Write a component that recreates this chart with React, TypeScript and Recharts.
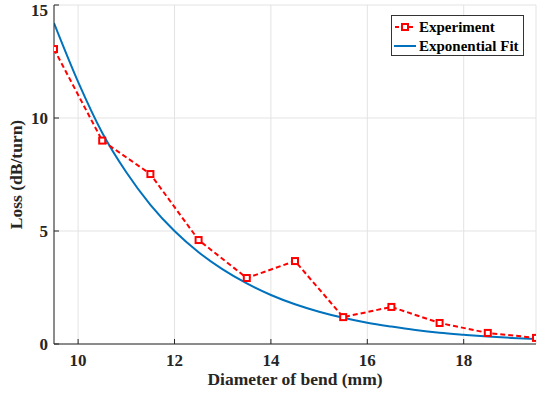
import { LineChart, Line, XAxis, YAxis, CartesianGrid, Legend } from 'recharts';

// Measured loss per turn at each bend diameter (mm)
const DIAMETERS = [9.5, 10.5, 11.5, 12.5, 13.5, 14.5, 15.5, 16.5, 17.5, 18.5, 19.5];
const LOSS_EXP = [13.05, 9.0, 7.52, 4.6, 2.92, 3.67, 1.19, 1.64, 0.93, 0.49, 0.27];

// Fitted curve, every 0.5 mm
const FIT_DIAMETERS = [9.5, 10, 10.5, 11, 11.5, 12, 12.5, 13, 13.5, 14, 14.5, 15, 15.5, 16, 16.5, 17, 17.5, 18, 18.5, 19, 19.5];
const FIT_LOSS = [14.2, 11.6, 9.35, 7.6, 6.16, 5.0, 4.06, 3.3, 2.68, 2.17, 1.76, 1.43, 1.16, 0.94, 0.77, 0.62, 0.5, 0.41, 0.33, 0.27, 0.22];

const X_TICKS = [10, 12, 14, 16, 18];
const Y_TICKS = [0, 5, 10, 15];

const RED = '#ff0000';
const BLUE = '#0072bd';
const AXIS = '#262626';
const FONT = '"Liberation Serif", "Times New Roman", serif';

const expData = DIAMETERS.map((d, i) => ({ d, loss: LOSS_EXP[i] }));
const fitData = FIT_DIAMETERS.map((d, i) => ({ d, fit: FIT_LOSS[i] }));

const tickStyle = { fill: AXIS, fontSize: 17, fontWeight: 700, fontFamily: FONT };

function SquareDot(props: any) {
  const { cx, cy } = props;
  if (cx == null || cy == null) return null;
  return <rect x={cx - 3} y={cy - 3} width={6} height={6} fill="#fff" stroke={RED} strokeWidth={2} />;
}

function LegendBox() {
  return (
    <div
      style={{
        width: 133, height: 41, border: '1px solid #333', background: '#fff', boxSizing: 'border-box',
        fontFamily: FONT, fontWeight: 700, fontSize: 15, lineHeight: '18px', color: '#000',
        padding: '1px 0 0', whiteSpace: 'nowrap', textAlign: 'left',
      }}
    >
      <div style={{ display: 'flex', alignItems: 'center', height: 19 }}>
        <svg width={22} height={12} style={{ marginLeft: 2, flex: 'none' }}>
          <line x1={1} y1={6} x2={21} y2={6} stroke={RED} strokeWidth={2} strokeDasharray="4 3" />
          <rect x={8} y={3} width={6} height={6} fill="#fff" stroke={RED} strokeWidth={2} />
        </svg>
        <span style={{ marginLeft: 3 }}>Experiment</span>
      </div>
      <div style={{ display: 'flex', alignItems: 'center', height: 19 }}>
        <svg width={22} height={12} style={{ marginLeft: 2, flex: 'none' }}>
          <line x1={0} y1={6} x2={22} y2={6} stroke={BLUE} strokeWidth={2} />
        </svg>
        <span style={{ marginLeft: 3 }}>Exponential Fit</span>
      </div>
    </div>
  );
}

export default function App() {
  return (
    <div style={{ position: 'absolute', left: 0, top: 0, background: '#fff' }}>
      <LineChart width={537} height={394} margin={{ top: 5, right: 1, bottom: 0, left: 0 }}>
        <CartesianGrid stroke="#e3e3e3" strokeWidth={1} />
        <XAxis
          dataKey="d"
          type="number"
          domain={[9.5, 19.5]}
          ticks={X_TICKS}
          allowDataOverflow
          height={50}
          stroke={AXIS}
          tickSize={-5}
          tickMargin={15}
          tick={tickStyle}
          label={{
            value: 'Diameter of bend (mm)', position: 'insideBottom', offset: 9,
            style: { fill: AXIS, fontSize: 17.5, fontWeight: 700, fontFamily: FONT },
          }}
        />
        <XAxis
          xAxisId="top"
          orientation="top"
          dataKey="d"
          type="number"
          domain={[9.5, 19.5]}
          ticks={X_TICKS}
          height={0}
          stroke={AXIS}
          tickSize={-5}
          tick={{ fill: 'none' }}
        />
        <YAxis
          type="number"
          domain={[0, 15]}
          ticks={Y_TICKS}
          width={54}
          stroke={AXIS}
          tickSize={-5}
          tickMargin={11}
          tick={tickStyle}
          label={{
            value: 'Loss (dB/turn)', angle: -90, position: 'insideLeft', offset: 16,
            style: { fill: AXIS, fontSize: 17.5, fontWeight: 700, fontFamily: FONT, textAnchor: 'middle' },
          }}
        />
        <YAxis
          yAxisId="right"
          orientation="right"
          type="number"
          domain={[0, 15]}
          ticks={Y_TICKS}
          width={0}
          stroke={AXIS}
          tickSize={-5}
          tick={{ fill: 'none' }}
        />
        <Legend
          layout="vertical"
          verticalAlign="middle"
          align="center"
          wrapperStyle={{ left: 391, top: 15, width: 133, height: 41 }}
          content={() => <LegendBox />}
        />
        <Line
          data={fitData}
          dataKey="fit"
          type="monotone"
          stroke={BLUE}
          strokeWidth={2}
          dot={false}
          isAnimationActive={false}
        />
        <Line
          data={expData}
          dataKey="loss"
          type="linear"
          stroke={RED}
          strokeWidth={2}
          strokeDasharray="5 3"
          dot={<SquareDot />}
          isAnimationActive={false}
        />
      </LineChart>
    </div>
  );
}
